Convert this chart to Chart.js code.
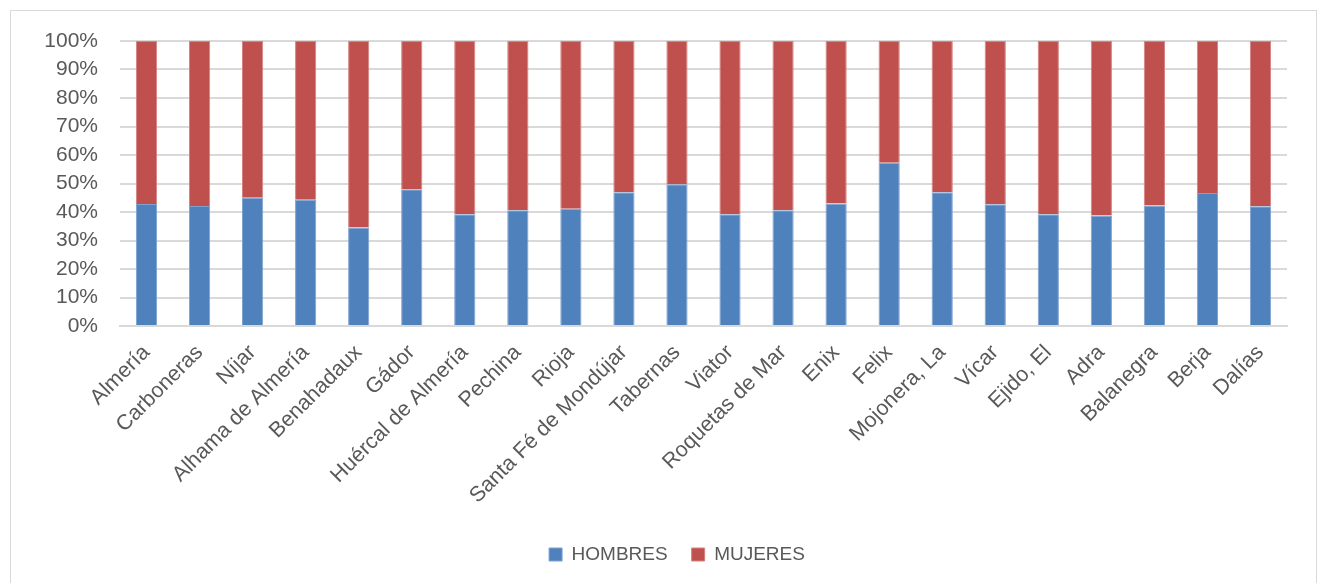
<!DOCTYPE html>
<html>
<head>
<meta charset="utf-8">
<script src="https://cdn.jsdelivr.net/npm/chart.js"></script>
<style>
  body { margin: 0; background: #fff; }
  #box {
    position: absolute; left: 10px; top: 10px;
    width: 1307px; height: 580px;
    border: 1px solid #d9d9d9; box-sizing: border-box;
  }
</style>
</head>
<body>
<div id="box"><canvas id="myChart" width="1305" height="572"></canvas></div>
<script>
const municipios = ['Almería', 'Carboneras', 'Níjar', 'Alhama de Almería', 'Benahadaux', 'Gádor',
  'Huércal de Almería', 'Pechina', 'Rioja', 'Santa Fé de Mondújar', 'Tabernas', 'Viator',
  'Roquetas de Mar', 'Enix', 'Felix', 'Mojonera, La', 'Vícar', 'Ejido, El', 'Adra',
  'Balanegra', 'Berja', 'Dalías'];
const hombres = [42.8, 42.1, 45.0, 44.3, 34.6, 48.0, 39.2, 40.6, 41.1, 46.9, 49.7, 39.2,
  40.6, 43.0, 57.3, 46.9, 42.7, 39.2, 38.8, 42.3, 46.7, 42.0];
const mujeres = hombres.map(h => +(100 - h).toFixed(1));
const yTicks = [0, 10, 20, 30, 40, 50, 60, 70, 80, 90, 100];

const family = '"Liberation Sans", Arial, sans-serif';
const ctx = document.getElementById('myChart');

// the legend sits a little right of centre in the original
const legendShift = {
  id: 'legendShift',
  afterLayout(chart) {
    chart.legend.left += 23;
    chart.legend.right += 23;
  },
};

new Chart(ctx, {
  type: 'bar',
  data: {
    labels: municipios,
    datasets: [
      {
        label: 'HOMBRES',
        data: hombres,
        backgroundColor: '#4f81bd',
        borderColor: '#7ea2d0',
        borderWidth: 1,
      },
      {
        label: 'MUJERES',
        data: mujeres,
        backgroundColor: '#c0504d',
        borderColor: '#d58280',
        borderWidth: 1,
      },
    ],
  },
  plugins: [legendShift],
  options: {
    responsive: false,
    animation: false,
    categoryPercentage: 1,
    barPercentage: 0.4,
    layout: { padding: { top: 30, right: 29, bottom: 9, left: 10 } },
    plugins: {
      legend: {
        position: 'bottom',
        labels: { font: { family, size: 19 }, color: '#595959', boxWidth: 13, boxHeight: 13, padding: 24 },
      },
      tooltip: { enabled: false },
    },
    scales: {
      x: {
        stacked: true,
        grid: { display: false },
        border: { color: '#d9d9d9', width: 2 },
        ticks: { font: { family, size: 21.5 }, color: '#595959', maxRotation: 45, minRotation: 45, autoSkip: false, padding: 6 },
        afterFit(scale) { scale.height = 195; },
      },
      y: {
        stacked: true,
        min: 0,
        max: 100,
        afterBuildTicks(scale) { scale.ticks = yTicks.map(v => ({ value: v })); },
        grid: { color: '#d9d9d9', lineWidth: 2, drawTicks: false },
        border: { display: false },
        ticks: { font: { family, size: 21 }, color: '#595959', padding: 22, autoSkip: false, callback: v => v + '%' },
        afterFit(scale) {
          scale.width = 99;
          scale.paddingTop = 0;
          scale.paddingBottom = 0;
        },
      },
    },
  },
});
</script>
</body>
</html>
